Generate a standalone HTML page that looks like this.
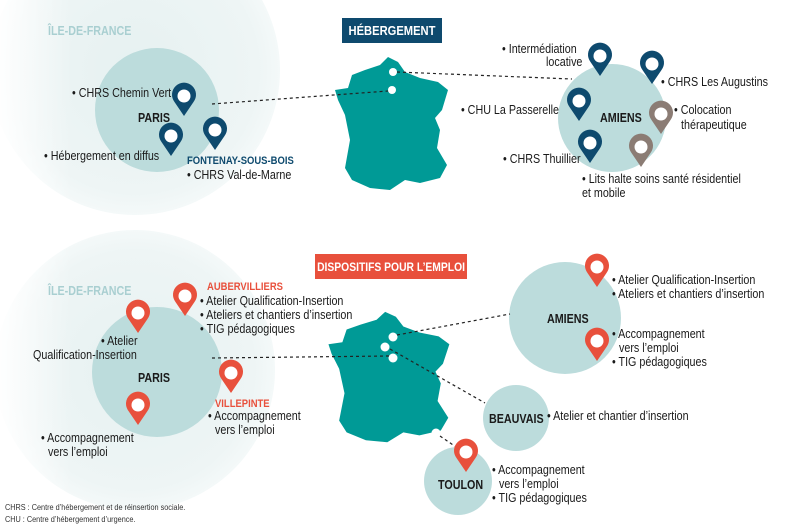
<!DOCTYPE html>
<html><head><meta charset="utf-8"><style>
html,body{margin:0;padding:0;background:#fff;}
svg{display:block;font-family:"Liberation Sans",sans-serif;}
.t{font-size:12.5px;fill:#1a1a1a;}
.b{font-size:12.5px;font-weight:bold;fill:#1a1a1a;}
</style></head><body>
<svg width="790" height="528" viewBox="0 0 790 528" xmlns="http://www.w3.org/2000/svg">
<defs>
<radialGradient id="g1" cx="0.5" cy="0.5" r="0.5">
<stop offset="0" stop-color="#e6f1f1"/><stop offset="0.85" stop-color="#eef5f5"/><stop offset="1" stop-color="#f4f9f9"/>
</radialGradient>
<linearGradient id="fade" x1="0" y1="0" x2="1" y2="0">
<stop offset="0" stop-color="#fff" stop-opacity="0.9"/><stop offset="0.25" stop-color="#fff" stop-opacity="0"/>
</linearGradient>
<g id="pb"><path d="M0,0 L-9.5,-14 A12,12 0 1 1 9.5,-14 Z" fill="#0e4a6e"/><circle cx="0" cy="-20" r="6.5" fill="#fff"/></g>
<g id="pg"><path d="M0,0 L-9.5,-14 A12,12 0 1 1 9.5,-14 Z" fill="#8b7c74"/><circle cx="0" cy="-20" r="6.5" fill="#fff"/></g>
<g id="pr"><path d="M0,0 L-9.5,-14 A12,12 0 1 1 9.5,-14 Z" fill="#e8503c"/><circle cx="0" cy="-20" r="6.5" fill="#fff"/></g>
<path id="fr" d="M388,57 L398,62 L405,72 L420,78 L438,82 L448,90 L442,110 L435,118 L440,130 L437,148 L447,165 L440,178 L420,183 L405,180 L390,190 L370,188 L352,180 L345,168 L350,140 L345,115 L338,100 L335,90 L348,88 L352,75 L365,70 L380,65 Z"/>
</defs>

<circle cx="135" cy="70" r="145" fill="url(#g1)"/>
<rect x="0" y="0" width="290" height="230" fill="url(#fade)"/>
<circle cx="135" cy="370" r="140" fill="url(#g1)"/>
<rect x="0" y="240" width="290" height="270" fill="url(#fade)"/>

<rect x="342" y="18" width="100" height="25" fill="#0e4a6e"/>
<rect x="315" y="254" width="152" height="25" fill="#e8503c"/>

<circle cx="157" cy="110" r="62" fill="#bcdcdc"/>
<circle cx="612" cy="118" r="54" fill="#bcdcdc"/>
<use href="#fr" fill="#009a96"/>
<circle cx="393" cy="72" r="4" fill="#fff"/>
<circle cx="392" cy="90" r="4" fill="#fff"/>
<line x1="212" y1="104" x2="388" y2="91" stroke="#222" stroke-width="1.2" stroke-dasharray="3,3"/>
<line x1="397" y1="72" x2="572" y2="79" stroke="#222" stroke-width="1.2" stroke-dasharray="3,3"/>

<use href="#pb" x="184" y="116"/>
<use href="#pb" x="171" y="156"/>
<use href="#pb" x="215" y="150"/>
<use href="#pb" x="600" y="76"/>
<use href="#pb" x="652" y="84"/>
<use href="#pb" x="579" y="121"/>
<use href="#pg" x="661" y="134"/>
<use href="#pb" x="590" y="163"/>
<use href="#pg" x="641" y="167"/>

<circle cx="157" cy="372" r="65" fill="#bcdcdc"/>
<circle cx="565" cy="318" r="56" fill="#bcdcdc"/>
<circle cx="516" cy="418" r="33" fill="#bcdcdc"/>
<circle cx="458" cy="481" r="34" fill="#bcdcdc"/>
<g transform="translate(-30,256) scale(1.07,0.98)"><use href="#fr" fill="#009a96"/></g>
<circle cx="393" cy="337" r="4.5" fill="#fff"/>
<circle cx="385" cy="347" r="4.5" fill="#fff"/>
<circle cx="393" cy="358" r="4.5" fill="#fff"/>
<circle cx="436" cy="433" r="4.5" fill="#fff"/>
<line x1="212" y1="358" x2="389" y2="356" stroke="#222" stroke-width="1.2" stroke-dasharray="3,3"/>
<line x1="397" y1="335" x2="510" y2="314" stroke="#222" stroke-width="1.2" stroke-dasharray="3,3"/>
<line x1="390" y1="349" x2="485" y2="403" stroke="#222" stroke-width="1.2" stroke-dasharray="3,3"/>
<line x1="440" y1="436" x2="456" y2="447" stroke="#222" stroke-width="1.2" stroke-dasharray="3,3"/>
<use href="#pr" x="185" y="316"/>
<use href="#pr" x="138" y="333"/>
<use href="#pr" x="231" y="393"/>
<use href="#pr" x="138" y="425"/>
<use href="#pr" x="597" y="287"/>
<use href="#pr" x="597" y="361"/>
<use href="#pr" x="466" y="472"/>

<g transform="scale(0.86,1)">
<text x="455.8" y="35" text-anchor="middle" font-size="13" font-weight="bold" fill="#fff">HÉBERGEMENT</text>
<text x="454.7" y="271" text-anchor="middle" font-size="12" font-weight="bold" fill="#fff">DISPOSITIFS POUR L’EMPLOI</text>

<text x="55.8" y="35" font-size="12.5" font-weight="bold" fill="#a9cfd1">ÎLE-DE-FRANCE</text>
<text class="t" x="83.7" y="97">• CHRS Chemin Vert</text>
<text class="b" x="160.5" y="122">PARIS</text>
<text class="t" x="51.2" y="160">• Hébergement en diffus</text>
<text x="217.4" y="164" font-size="11" font-weight="bold" fill="#0e4a6e">FONTENAY-SOUS-BOIS</text>
<text class="t" x="217.4" y="179">• CHRS Val-de-Marne</text>

<text class="t" x="583.7" y="53">• Intermédiation</text>
<text class="t" x="634.9" y="66">locative</text>
<text class="t" x="768.6" y="86">• CHRS Les Augustins</text>
<text class="t" x="536" y="114">• CHU La Passerelle</text>
<text class="b" x="697.7" y="122">AMIENS</text>
<text class="t" x="783.7" y="114">• Colocation</text>
<text class="t" x="791.9" y="129">thérapeutique</text>
<text class="t" x="584.9" y="163">• CHRS Thuillier</text>
<text class="t" x="676.7" y="183">• Lits halte soins santé résidentiel</text>
<text class="t" x="676.7" y="197">et mobile</text>

<text x="55.8" y="295" font-size="12.5" font-weight="bold" fill="#a9cfd1">ÎLE-DE-FRANCE</text>
<text x="240.7" y="290" font-size="11" font-weight="bold" fill="#e8503c">AUBERVILLIERS</text>
<text class="t" x="232.6" y="305">• Atelier Qualification-Insertion</text>
<text class="t" x="232.6" y="319">• Ateliers et chantiers d’insertion</text>
<text class="t" x="232.6" y="333">• TIG pédagogiques</text>
<text class="t" x="117.4" y="345">• Atelier</text>
<text class="t" x="38.4" y="359">Qualification-Insertion</text>
<text class="b" x="160.5" y="382">PARIS</text>
<text x="250" y="407" font-size="11" font-weight="bold" fill="#e8503c">VILLEPINTE</text>
<text class="t" x="241.9" y="420">• Accompagnement</text>
<text class="t" x="250" y="434">vers l’emploi</text>
<text class="t" x="47.7" y="442">• Accompagnement</text>
<text class="t" x="55.8" y="456">vers l’emploi</text>

<text class="t" x="711.6" y="284">• Atelier Qualification-Insertion</text>
<text class="t" x="711.6" y="298">• Ateliers et chantiers d’insertion</text>
<text class="b" x="636" y="323">AMIENS</text>
<text class="t" x="711.6" y="338">• Accompagnement</text>
<text class="t" x="719.8" y="352">vers l’emploi</text>
<text class="t" x="711.6" y="366">• TIG pédagogiques</text>
<text class="b" x="568.6" y="423">BEAUVAIS</text>
<text class="t" x="636" y="420">• Atelier et chantier d’insertion</text>
<text class="b" x="509.3" y="489">TOULON</text>
<text class="t" x="572.1" y="474">• Accompagnement</text>
<text class="t" x="580.2" y="488">vers l’emploi</text>
<text class="t" x="572.1" y="502">• TIG pédagogiques</text>

<text x="5.8" y="510" font-size="8.5" fill="#333">CHRS : Centre d’hébergement et de réinsertion sociale.</text>
<text x="5.8" y="522" font-size="8.5" fill="#333">CHU : Centre d’hébergement d’urgence.</text>
</g>
</svg>
</body></html>
